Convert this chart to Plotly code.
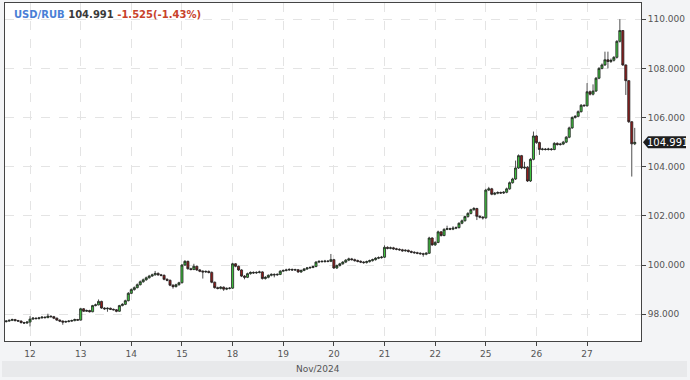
import plotly.graph_objects as go

# ---------------- data (hourly candles, USD/RUB) ----------------
day_labels = ["12", "13", "14", "15", "18", "19", "20", "21", "22", "25", "26", "27"]
day_first_index = [8, 25, 42, 59, 76, 93, 110, 127, 144, 161, 178, 195]
month_label = "Nov/2024"
symbol = "USD/RUB"
last_text = "104.991"
change_text = "-1.525(-1.43%)"
y_ticks = [98, 100, 102, 104, 106, 108, 110]

opens = [
    97.70, 97.72, 97.75, 97.78, 97.74, 97.72, 97.66, 97.64,
    97.68, 97.80, 97.84, 97.82, 97.85, 97.88, 97.86, 97.92, 97.90, 97.84, 97.76, 97.72, 97.68, 97.70, 97.72, 97.74, 97.78,
    97.76, 98.22, 98.12, 98.15, 98.10, 98.35, 98.38, 98.52, 98.25, 98.22, 98.24, 98.20, 98.18, 98.12, 98.35, 98.40, 98.55,
    98.85, 99.00, 99.08, 99.20, 99.32, 99.40, 99.48, 99.55, 99.60, 99.66, 99.60, 99.58, 99.42, 99.38, 99.18, 99.12, 99.20,
    99.28, 100.00, 100.15, 99.85, 99.82, 99.95, 99.80, 99.75, 99.72, 99.74, 99.70, 99.30, 99.08, 99.05, 99.10, 99.02, 99.05,
    99.06, 100.05, 99.95, 99.80, 99.55, 99.50, 99.65, 99.70, 99.68, 99.70, 99.72, 99.45, 99.50, 99.58, 99.62, 99.60, 99.62,
    99.75, 99.78, 99.80, 99.82, 99.80, 99.81, 99.72, 99.78, 99.84, 99.88, 99.90, 99.94, 100.12, 100.15, 100.14, 100.16, 100.15,
    100.22, 99.88, 99.98, 100.05, 100.12, 100.20, 100.25, 100.22, 100.18, 100.15, 100.12, 100.10, 100.14, 100.18, 100.22, 100.28, 100.30,
    100.32, 100.72, 100.68, 100.70, 100.66, 100.64, 100.62, 100.58, 100.60, 100.55, 100.52, 100.50, 100.48, 100.46, 100.44, 100.48, 101.10,
    100.82, 100.92, 101.35, 101.20, 101.45, 101.48, 101.46, 101.50, 101.52, 101.70, 101.80, 101.97, 102.10, 102.25, 102.30, 101.98, 101.95,
    101.92, 103.05, 103.10, 102.88, 102.92, 102.95, 102.93, 102.96, 103.10, 103.35, 103.50, 103.95, 104.45, 103.95, 103.98, 103.42, 104.30,
    105.25, 104.98, 104.70, 104.72, 104.70, 104.72, 104.70, 104.95, 104.90, 104.92, 105.00, 105.20, 105.58, 106.00, 106.05, 106.24, 106.50,
    106.48, 107.05, 106.95, 107.08, 107.60, 108.00, 108.14, 108.35, 108.28, 108.33, 108.45, 109.10, 109.54, 108.14, 107.50, 105.83, 104.93,
]
closes = [
    97.72, 97.75, 97.78, 97.74, 97.72, 97.66, 97.64, 97.68,
    97.80, 97.84, 97.82, 97.85, 97.88, 97.86, 97.92, 97.90, 97.84, 97.76, 97.72, 97.68, 97.70, 97.72, 97.74, 97.78, 97.76,
    98.22, 98.12, 98.15, 98.10, 98.35, 98.38, 98.52, 98.25, 98.22, 98.24, 98.20, 98.18, 98.12, 98.35, 98.40, 98.55, 98.85,
    99.00, 99.08, 99.20, 99.32, 99.40, 99.48, 99.55, 99.60, 99.66, 99.60, 99.58, 99.42, 99.38, 99.18, 99.12, 99.20, 99.28,
    100.00, 100.15, 99.85, 99.82, 99.95, 99.80, 99.75, 99.72, 99.74, 99.70, 99.30, 99.08, 99.05, 99.10, 99.02, 99.05, 99.06,
    100.05, 99.95, 99.80, 99.55, 99.50, 99.65, 99.70, 99.68, 99.70, 99.72, 99.45, 99.50, 99.58, 99.62, 99.60, 99.62, 99.75,
    99.78, 99.80, 99.82, 99.80, 99.81, 99.72, 99.78, 99.84, 99.88, 99.90, 99.94, 100.12, 100.15, 100.14, 100.16, 100.15, 100.22,
    99.88, 99.98, 100.05, 100.12, 100.20, 100.25, 100.22, 100.18, 100.15, 100.12, 100.10, 100.14, 100.18, 100.22, 100.28, 100.30, 100.32,
    100.72, 100.68, 100.70, 100.66, 100.64, 100.62, 100.58, 100.60, 100.55, 100.52, 100.50, 100.48, 100.46, 100.44, 100.48, 101.10, 100.82,
    100.92, 101.35, 101.20, 101.45, 101.48, 101.46, 101.50, 101.52, 101.70, 101.80, 101.97, 102.10, 102.25, 102.30, 101.98, 101.95, 101.92,
    103.05, 103.10, 102.88, 102.92, 102.95, 102.93, 102.96, 103.10, 103.35, 103.50, 103.95, 104.45, 103.95, 103.98, 103.42, 104.30, 105.25,
    104.98, 104.70, 104.72, 104.70, 104.72, 104.70, 104.95, 104.90, 104.92, 105.00, 105.20, 105.58, 106.00, 106.05, 106.24, 106.50, 106.48,
    107.05, 106.95, 107.08, 107.60, 108.00, 108.14, 108.35, 108.28, 108.33, 108.45, 109.10, 109.54, 108.14, 107.50, 105.83, 104.93, 104.991,
]
highs = [
    97.76, 97.79, 97.82, 97.81, 97.77, 97.75, 97.69, 97.71,
    97.92, 97.88, 97.87, 97.89, 97.92, 97.91, 98.02, 97.95, 97.93, 97.86, 97.79, 97.75, 97.74, 97.76, 97.78, 97.82, 97.81,
    98.26, 98.25, 98.19, 98.18, 98.38, 98.43, 98.60, 98.55, 98.28, 98.28, 98.27, 98.23, 98.21, 98.38, 98.45, 98.59, 98.90,
    99.05, 99.13, 99.25, 99.37, 99.45, 99.53, 99.60, 99.65, 99.76, 99.70, 99.64, 99.62, 99.46, 99.41, 99.22, 99.24, 99.32,
    100.04, 100.20, 100.18, 99.89, 100.05, 99.98, 99.84, 99.79, 99.78, 99.78, 99.74, 99.33, 99.12, 99.14, 99.13, 99.09, 99.10,
    100.09, 100.08, 99.98, 99.83, 99.59, 99.69, 99.74, 99.74, 99.74, 99.77, 99.75, 99.55, 99.62, 99.66, 99.66, 99.66, 99.79,
    99.82, 99.85, 99.87, 99.86, 99.85, 99.84, 99.82, 99.88, 99.92, 99.95, 99.98, 100.16, 100.19, 100.20, 100.21, 100.20, 100.45,
    100.25, 100.02, 100.09, 100.16, 100.24, 100.30, 100.29, 100.26, 100.22, 100.19, 100.16, 100.18, 100.22, 100.26, 100.32, 100.35, 100.37,
    100.80, 100.76, 100.75, 100.74, 100.70, 100.68, 100.66, 100.64, 100.63, 100.59, 100.56, 100.54, 100.52, 100.50, 100.52, 101.15, 101.13,
    100.97, 101.40, 101.38, 101.50, 101.60, 101.52, 101.58, 101.57, 101.74, 101.85, 102.01, 102.15, 102.29, 102.36, 102.33, 102.02, 101.99,
    103.10, 103.18, 103.14, 102.97, 103.00, 102.99, 103.01, 103.15, 103.40, 103.55, 104.25, 104.50, 104.48, 104.20, 104.02, 104.35, 105.43,
    105.28, 105.02, 104.77, 104.76, 104.77, 104.76, 105.00, 104.99, 104.97, 105.05, 105.25, 105.63, 106.05, 106.10, 106.29, 106.55, 106.54,
    107.40, 107.10, 107.35, 107.65, 108.05, 108.20, 108.68, 108.68, 108.40, 108.50, 109.15, 110.00, 109.56, 108.16, 107.52, 105.85, 105.58,
]
lows = [
    97.66, 97.69, 97.72, 97.71, 97.69, 97.62, 97.60, 97.61,
    97.50, 97.77, 97.79, 97.79, 97.82, 97.83, 97.84, 97.86, 97.80, 97.73, 97.68, 97.57, 97.65, 97.67, 97.69, 97.71, 97.73,
    97.74, 98.09, 98.09, 98.07, 98.08, 98.32, 98.36, 98.22, 98.18, 98.10, 98.17, 98.15, 98.08, 98.10, 98.32, 98.37, 98.52,
    98.82, 98.96, 99.05, 99.17, 99.28, 99.36, 99.45, 99.52, 99.57, 99.56, 99.54, 99.38, 99.34, 99.14, 99.04, 99.09, 99.16,
    99.25, 99.96, 99.81, 99.78, 99.79, 99.76, 99.71, 99.45, 99.68, 99.66, 99.26, 99.04, 99.01, 99.01, 98.95, 98.98, 99.01,
    99.03, 99.91, 99.76, 99.51, 99.42, 99.47, 99.61, 99.64, 99.64, 99.66, 99.41, 99.41, 99.46, 99.54, 99.50, 99.56, 99.59,
    99.71, 99.74, 99.76, 99.76, 99.76, 99.68, 99.68, 99.75, 99.80, 99.85, 99.87, 99.91, 100.08, 100.10, 100.10, 100.11, 100.12,
    99.84, 99.84, 99.94, 100.01, 100.08, 100.16, 100.18, 100.14, 100.11, 100.08, 100.05, 100.06, 100.10, 100.14, 100.18, 100.24, 100.26,
    100.29, 100.64, 100.64, 100.62, 100.60, 100.58, 100.54, 100.54, 100.51, 100.48, 100.46, 100.44, 100.42, 100.34, 100.40, 100.45, 100.78,
    100.78, 100.89, 101.16, 101.17, 101.42, 101.42, 101.42, 101.46, 101.49, 101.66, 101.77, 101.93, 102.06, 102.21, 101.83, 101.90, 101.85,
    101.88, 103.01, 102.84, 102.84, 102.88, 102.89, 102.89, 102.92, 103.06, 103.31, 103.46, 103.91, 103.90, 103.90, 103.38, 103.38, 104.26,
    104.93, 104.48, 104.66, 104.66, 104.66, 104.65, 104.67, 104.86, 104.86, 104.88, 104.96, 105.16, 105.54, 105.96, 106.01, 106.20, 106.44,
    106.44, 106.90, 106.90, 107.04, 107.56, 107.96, 108.10, 108.00, 108.22, 108.28, 108.40, 109.05, 108.10, 106.92, 105.78, 103.60, 104.88,
]

# ---------------- figure ----------------
W, H = 690, 380
ML, MR, MT, MB = 5, 49, 3, 39
plot_w = W - ML - MR
plot_h = H - MT - MB
n = len(closes)

fig = go.Figure()
fig.add_trace(go.Candlestick(
    x=list(range(n)),
    open=opens, high=highs, low=lows, close=closes,
    increasing=dict(fillcolor="#3fc23f", line=dict(color="#222222", width=0.8)),
    decreasing=dict(fillcolor="#921c1c", line=dict(color="#222222", width=0.8)),
    whiskerwidth=0,
    hoverinfo="skip",
))

axis_font = dict(family="DejaVu Sans", size=9, color="#555555")

fig.update_layout(
    width=W, height=H,
    margin=dict(l=ML, r=MR, t=MT, b=MB),
    paper_bgcolor="#f3f4f6",
    plot_bgcolor="#ffffff",
    showlegend=False,
    boxgap=0.0,
    xaxis=dict(
        range=[-0.4, 213.1],
        tickmode="array", tickvals=day_first_index, ticktext=day_labels,
        showgrid=True, gridcolor="#e4e4e4", griddash="dash", gridwidth=1,
        showline=True, linecolor="#444444", linewidth=1, mirror=True,
        ticks="outside", ticklen=4, tickcolor="#444444",
        tickfont=axis_font,
        rangeslider=dict(visible=False),
        zeroline=False, fixedrange=True,
    ),
    yaxis=dict(
        range=[96.91, 110.66], side="right",
        tickmode="array", tickvals=y_ticks, tickformat=".3f",
        showgrid=True, gridcolor="#e4e4e4", griddash="dash", gridwidth=1,
        showline=True, linecolor="#444444", linewidth=1, mirror=True,
        ticks="outside", ticklen=4, tickcolor="#444444",
        tickfont=axis_font,
        zeroline=False, fixedrange=True,
    ),
)

# month band below the axis
fig.add_shape(type="rect", xref="paper", yref="paper",
              x0=(2 - ML) / plot_w, x1=(687 - ML) / plot_w,
              y0=-(377 - (H - MB)) / plot_h, y1=-(361 - (H - MB)) / plot_h,
              fillcolor="#e8e9eb", line=dict(width=0), layer="below")
fig.add_annotation(xref="paper", yref="paper", x=(342 - ML) / plot_w, y=-(369 - (H - MB)) / plot_h,
                   text=month_label, showarrow=False, xanchor="right", yanchor="middle",
                   font=dict(family="DejaVu Sans", size=9, color="#555555"))

# header
fig.add_annotation(
    xref="paper", yref="paper", x=(12 - ML) / plot_w, y=1 - (15 - MT) / plot_h,
    xanchor="left", yanchor="middle", showarrow=False,
    text=(f"<b><span style='color:#4a7fd6'>{symbol}</span> "
          f"<span style='color:#3a3a3a'>{last_text}</span> "
          f"<span style='color:#c8432b'>{change_text}</span></b>"),
    font=dict(family="DejaVu Sans", size=10),
)

# last price tag on the right axis
fig.add_shape(type="path", xref="paper", yref="y",
              xsizemode="pixel", ysizemode="pixel",
              xanchor=1, yanchor=closes[-1],
              path="M 2 0 L 7 -6 L 45 -6 L 45 6 L 7 6 Z",
              fillcolor="#1f1f1f", line=dict(width=0))
fig.add_annotation(xref="paper", yref="y", x=1, y=closes[-1], xshift=26,
                   text=f"{closes[-1]:.3f}", showarrow=False,
                   xanchor="center", yanchor="middle",
                   font=dict(family="DejaVu Sans", size=10, color="#ffffff"))

fig.write_html("out.html", config={"displayModeBar": False})
